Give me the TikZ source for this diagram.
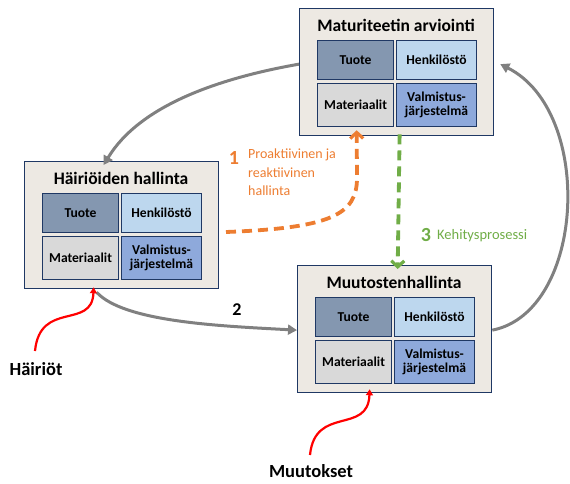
\documentclass[tikz,border=0pt]{standalone}
\usepackage{fontspec}
\setmainfont{Carlito}
\usetikzlibrary{arrows.meta}

\definecolor{boxfill}{HTML}{EDE9E3}
\definecolor{boxline}{HTML}{1F3864}
\definecolor{tuotefill}{HTML}{8497B0}
\definecolor{henkfill}{HTML}{BDD7EE}
\definecolor{matfill}{HTML}{D9D9D9}
\definecolor{valmfill}{HTML}{8EA9DB}
\definecolor{flowgray}{HTML}{808080}
\definecolor{proorange}{HTML}{ED7D31}
\definecolor{devgreen}{HTML}{70AD47}
\definecolor{eventred}{HTML}{FF0000}

\tikzset{
  outerbox/.style={draw=boxline, line width=1.3pt, fill=boxfill, anchor=north west,
    minimum width=194pt, minimum height=127pt, inner sep=0pt},
  boxtitle/.style={font=\fontsize{17.5}{19}\selectfont\bfseries, text=black},
  cell/.style={draw=boxline, line width=1.1pt, anchor=north west, inner sep=0pt,
    align=center, font=\fontsize{13.6}{15}\selectfont\bfseries, text=black},
  narrowcell/.style={cell, minimum width=76pt},
  widecell/.style={cell, minimum width=80pt},
  uppercell/.style={minimum height=39pt},
  lowercell/.style={minimum height=43pt},
  flow/.style={draw=flowgray, line width=3pt, -{Triangle[length=9pt,width=10pt]}},
  dashflow/.style={line width=3.8pt, dash pattern=on 10pt off 6pt,
    -{Straight Barb[length=6pt,width=13pt,line width=3.2pt]}},
  eventarrow/.style={draw=eventred, line width=2.2pt, -{Triangle[length=6pt,width=7pt]}},
  eventlabel/.style={font=\fontsize{18.5}{20}\selectfont\bfseries, text=black},
  block/.pic={
    \node[outerbox] (-box) at (0,0) {};
    \node[boxtitle] (-title) at (97,17) {#1};
    \node[narrowcell, uppercell, fill=tuotefill] (-tuote) at (18,32) {Tuote};
    \node[widecell, uppercell, fill=henkfill] (-henk) at (97,32) {Henkilöstö};
    \node[narrowcell, lowercell, fill=matfill] (-mat) at (18,75) {Materiaalit};
    \node[widecell, lowercell, fill=valmfill] (-valm) at (97,75)
      {Valmistus-\\[-1pt]järjestelmä};
  }
}

\begin{document}
\begin{tikzpicture}[x=1pt, y=-1pt]
  \useasboundingbox (0,0) rectangle (570,484);

  % three management blocks
  \pic (mat) at (299,8) {block=Maturiteetin arviointi};
  \pic (hai) at (24,161) {block=Häiriöiden hallinta};
  \pic (muu) at (297,265) {block=Muutostenhallinta};

  % gray cycle
  \draw[flow] ([yshift=8pt]mat-box.west) .. controls (220,78) and (140,105)
    .. ([xshift=-18pt,yshift=-4pt]hai-box.north);
  \draw[flow] ([xshift=-25pt,yshift=-3pt]hai-box.south) .. controls (124,322) and (220,326)
    .. ([yshift=-1pt]muu-box.west);
  \draw[flow] ([yshift=-1pt]muu-box.east) .. controls (585,312) and (595,112)
    .. ([xshift=6pt,yshift=8pt]mat-box.east);
  \node[font=\fontsize{18}{20}\selectfont\bfseries] (two) at (237,310) {2};

  % 1: proactive and reactive management
  \coordinate (orstart) at (226,232);
  \draw[dashflow, draw=proorange] (orstart) .. controls (330,228) and (357,215)
    .. (357,178) -- ([xshift=-40pt,yshift=6pt]mat-box.south);
  \node[font=\fontsize{20}{22}\selectfont\bfseries, text=proorange] (one) at (234,158) {1};
  \node[anchor=north west, align=left, text=proorange,
    font=\fontsize{14}{18.5}\selectfont, inner sep=0pt] (pro) at (248,149)
    {Proaktiivinen ja\\reaktiivinen\\hallinta};

  % 3: development process
  \draw[dashflow, draw=devgreen] ([xshift=3pt,yshift=2pt]mat-box.south)
    -- ([xshift=3pt,yshift=-4pt]muu-box.north);
  \node[font=\fontsize{20}{22}\selectfont\bfseries, text=devgreen] (three) at (426,235) {3};
  \node[anchor=west, text=devgreen, font=\fontsize{14.5}{16}\selectfont, inner sep=0pt]
    (kehitys) at (437,236) {Kehitysprosessi};

  % disturbances and changes
  \node[eventlabel] (hairiot) at (36,369) {Häiriöt};
  \coordinate (hstart) at (35,351);
  \draw[eventarrow] (hstart) .. controls (40,300) and (92,330)
    .. ([xshift=-28pt,yshift=2pt]hai-box.south);
  \node[eventlabel] (muutokset) at (311,471) {Muutokset};
  \coordinate (mstart) at (310,455);
  \draw[eventarrow] (mstart) .. controls (315,405) and (368,435)
    .. ([xshift=-25pt,yshift=4pt]muu-box.south);
\end{tikzpicture}
\end{document}
